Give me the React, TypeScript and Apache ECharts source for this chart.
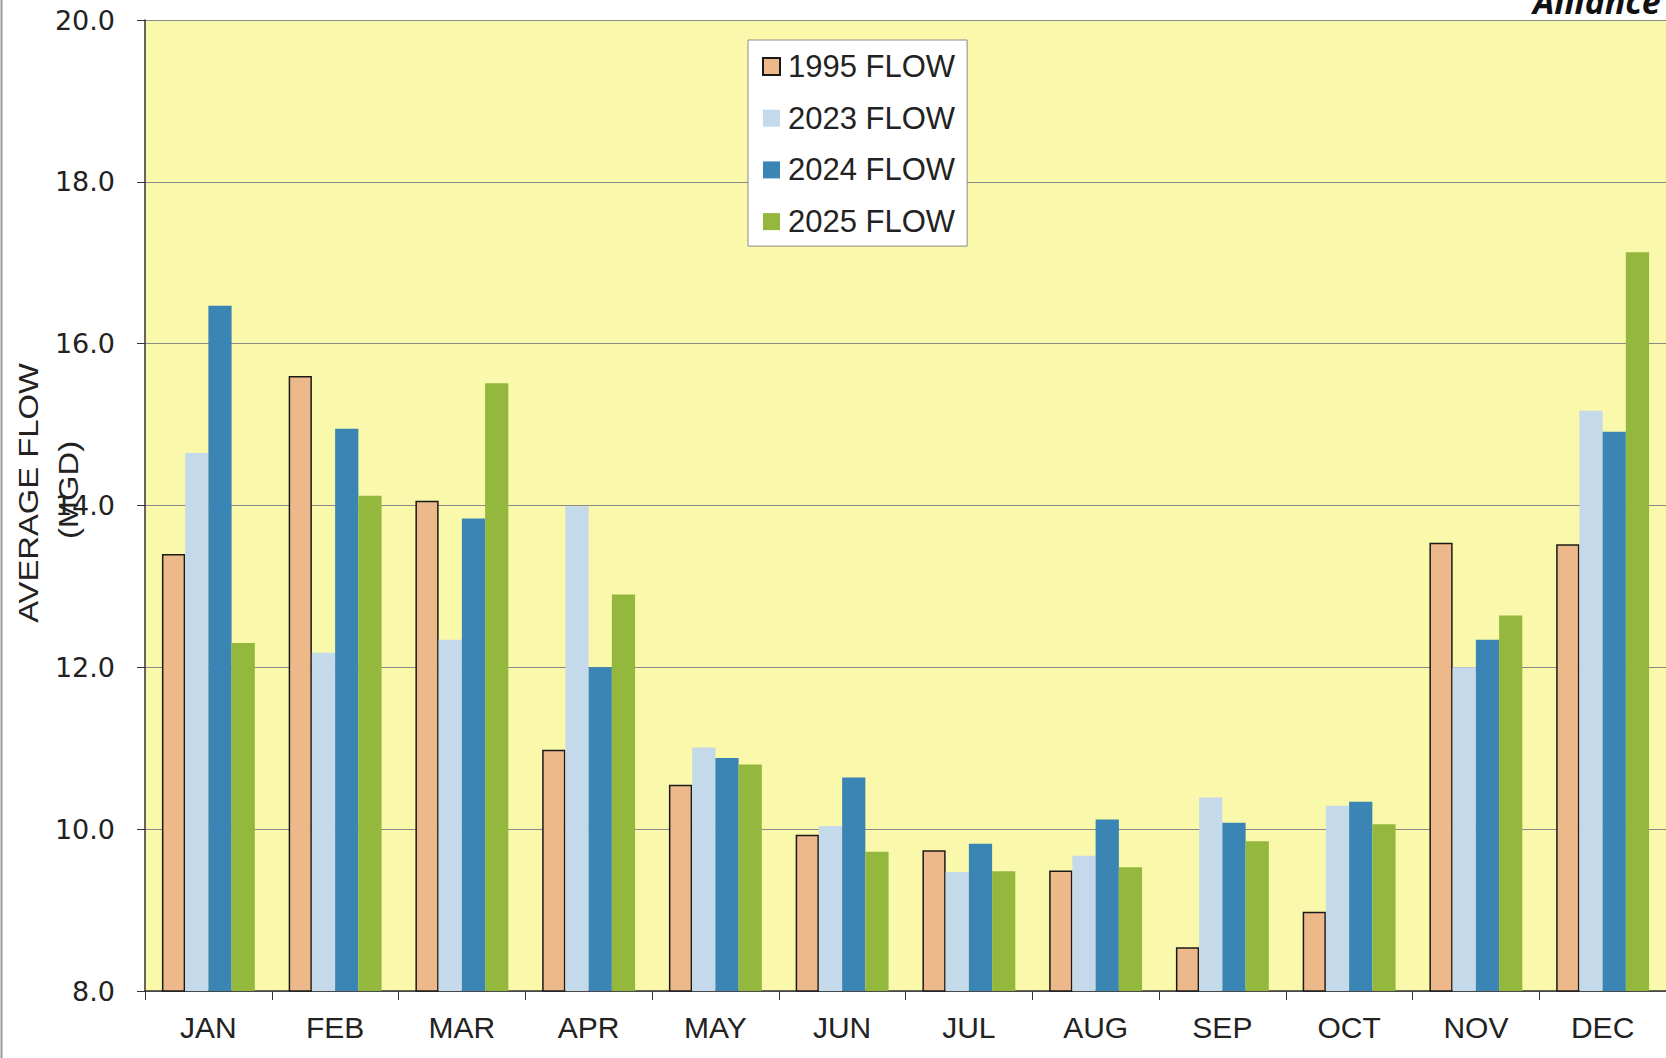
import React, { useEffect, useRef } from "react";
import * as echarts from "echarts";

const categories = ["JAN", "FEB", "MAR", "APR", "MAY", "JUN", "JUL", "AUG", "SEP", "OCT", "NOV", "DEC"];
const seriesNames = ["1995 FLOW", "2023 FLOW", "2024 FLOW", "2025 FLOW"];
const flow1995 = [13.40, 15.60, 14.06, 10.98, 10.55, 9.93, 9.74, 9.49, 8.54, 8.98, 13.54, 13.52];
const flow2023 = [14.65, 12.18, 12.34, 13.99, 11.01, 10.04, 9.47, 9.67, 10.39, 10.29, 12.0, 15.17];
const flow2024 = [16.47, 14.95, 13.84, 12.0, 10.88, 10.64, 9.82, 10.12, 10.08, 10.34, 12.34, 14.91];
const flow2025 = [12.30, 14.12, 15.51, 12.90, 10.80, 9.72, 9.48, 9.53, 9.85, 10.06, 12.64, 17.13];
const yMin = 8;
const yMax = 20;
const yInterval = 2;
const yTitleLines = ["AVERAGE FLOW", "(MGD)"];
const cornerText = "Alliance";

const colors = ["#EDB98A", "#C4DAEA", "#3A85B4", "#93B83D"];
const FONT = "'Liberation Sans', Arial, sans-serif";

export default function App() {
  const ref = useRef<HTMLDivElement>(null);
  useEffect(() => {
    if (!ref.current) return;
    const chart = echarts.init(ref.current, null, { renderer: "svg" });
    const data = [flow1995, flow2023, flow2024, flow2025];
    chart.setOption({
      animation: false,
      backgroundColor: "#ffffff",
      textStyle: { fontFamily: FONT },
      grid: {
        left: 145,
        right: -5,
        top: 20,
        bottom: 67,
        show: true,
        backgroundColor: "#FAF8AA",
        borderWidth: 0,
      },
      legend: {
        orient: "vertical",
        left: 748,
        top: 40,
        padding: [11, 12, 9, 14],
        itemWidth: 17,
        itemHeight: 17,
        itemGap: 20.7,
        icon: "rect",
        selectedMode: false,
        backgroundColor: "#ffffff",
        borderColor: "#8c8c8c",
        borderWidth: 1,
        textStyle: { fontSize: 31, lineHeight: 31, color: "#222", fontFamily: FONT, padding: [0, 0, 0, 3] },
        data: seriesNames,
      },
      xAxis: {
        type: "category",
        data: categories,
        axisLine: { show: true, lineStyle: { color: "#333", width: 1.5 } },
        axisTick: { show: true, length: 9, lineStyle: { color: "#333", width: 1 } },
        axisLabel: { fontSize: 30, color: "#222", margin: 21, fontFamily: FONT },
      },
      yAxis: {
        type: "value",
        min: yMin,
        max: yMax,
        interval: yInterval,
        axisLine: { show: true, lineStyle: { color: "#333", width: 1.5 } },
        axisTick: { show: true, length: 8, lineStyle: { color: "#333", width: 1 } },
        axisLabel: {
          fontSize: 27,
          color: "#222",
          margin: 30,
          fontFamily: "'DejaVu Sans', Verdana, sans-serif",
          formatter: (v: number) => v.toFixed(1),
        },
        splitLine: { show: true, lineStyle: { color: "#8a8a8a", width: 1.2 } },
      },
      series: seriesNames.map((name, i) => ({
        name,
        type: "bar",
        data: data[i],
        barGap: "0%",
        barCategoryGap: "26.7%",
        itemStyle:
          i === 0
            ? { color: colors[i], borderColor: "#1a1a1a", borderWidth: 1.5 }
            : { color: colors[i] },
      })),
      graphic: [
        {
          type: "line",
          shape: { x1: 1.5, y1: 0, x2: 1.5, y2: 1058 },
          style: { stroke: "#9a9a9a", lineWidth: 2 },
        },
        {
          type: "text",
          x: 28,
          y: 493,
          rotation: Math.PI / 2,
          scaleX: 1.17,
          scaleY: 1,
          style: {
            text: yTitleLines[0],
            font: `28px ${FONT}`,
            fill: "#222",
            textAlign: "center",
            textVerticalAlign: "middle",
          },
        },
        {
          type: "text",
          x: 68,
          y: 490,
          rotation: Math.PI / 2,
          scaleX: 1.17,
          scaleY: 1,
          style: {
            text: yTitleLines[1],
            font: `28px ${FONT}`,
            fill: "#222",
            textAlign: "center",
            textVerticalAlign: "middle",
          },
        },
        {
          type: "text",
          x: 1533,
          y: 18,
          style: {
            text: cornerText,
            font: `italic bold 34px 'Open Sans', sans-serif`,
            fill: "#111",
            textAlign: "left",
            textVerticalAlign: "bottom",
          },
        },
      ],
    });
    return () => chart.dispose();
  }, []);
  return (
    <div
      ref={ref}
      style={{ position: "fixed", left: 0, top: 0, width: 1666, height: 1058, background: "#fff" }}
    />
  );
}
